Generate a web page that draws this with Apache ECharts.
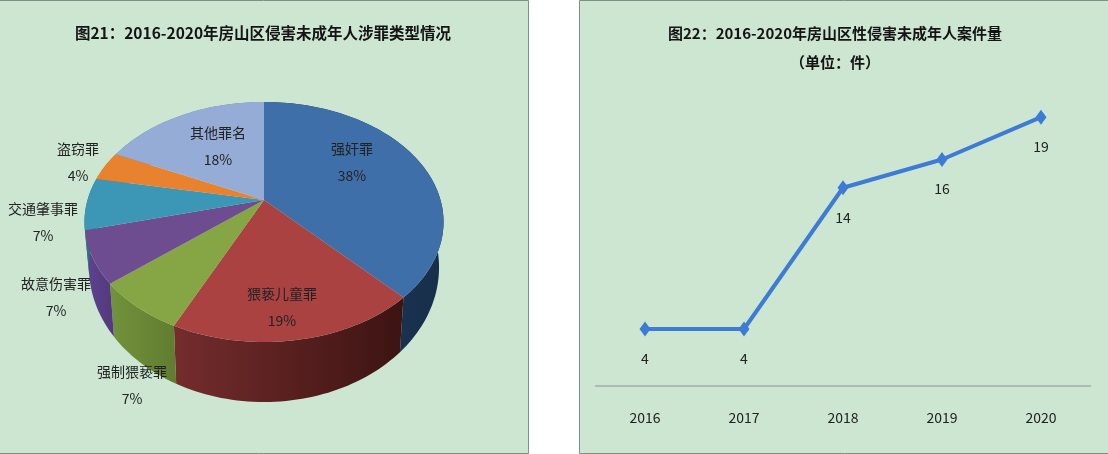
<!DOCTYPE html>
<html>
<head>
<meta charset="utf-8">
<style>html,body{margin:0;padding:0;background:#fff}#c{width:1108px;height:454px}</style>
<script src="https://cdn.jsdelivr.net/npm/echarts@6/dist/echarts.min.js"></script>
</head>
<body>
<div id="c"></div>
<script>
// ---- data ----
const crimeNames = ['强奸罪', '猥亵儿童罪', '强制猥亵罪', '故意伤害罪', '交通肇事罪', '盗窃罪', '其他罪名'];
const crimeShares = [38, 19, 7, 7, 7, 4, 18];
const years = ['2016', '2017', '2018', '2019', '2020'];
const caseCounts = [4, 4, 14, 16, 19];
const titleLeft = '图21：2016-2020年房山区侵害未成年人涉罪类型情况';
const titleRight = '图22：2016-2020年房山区性侵害未成年人案件量\n（单位：件）';

// ---- styling / layout ----
const FONT = '"Noto Sans CJK SC","Noto Sans",sans-serif';
const topColors = ['#3f6fa8', '#a94240', '#86a544', '#6d4c8f', '#3c97b6', '#e8822f', '#95add6'];
const wallLeft = ['#1c3a5a', '#752c2d', '#72923c', '#5f4490', '#2d7288', '#ae6020', '#6f81a0'];
const wallRight = ['#182f4b', '#3c1412', '#617c30', '#52397c', '#2d7288', '#ae6020', '#6f81a0'];
const labelCentres = [[352, 162], [282, 307], [132, 385], [56, 297], [43, 222], [78, 162], [218, 146]];
const P = {ax: 264, ay: 200, A: 176.5, B: 116, k: 0.183, sx: 0.975, sy: 1.122, dy: 42.7};

function rim(deg, bottom) {
  const t = deg * Math.PI / 180, u = Math.sin(t), v = Math.cos(t), w = 1 + P.k * v;
  const X = P.A * u / w, Y = -P.B * v / w;
  return bottom
    ? [P.ax + P.sx * X, P.ay + P.dy + P.sy * Y]
    : [P.ax + X, P.ay + Y];
}
function sweep(start, end, bottom) {
  const pts = [], n = Math.max(2, Math.ceil((end - start) / 1.5));
  for (let i = 0; i <= n; i++) pts.push(rim(start + (end - start) * i / n, bottom));
  return pts;
}
const total = crimeShares.reduce((a, b) => a + b, 0);
function sliceRange(i) {
  let before = 0;
  for (let j = 0; j < i; j++) before += crimeShares[j];
  return [before / total * 360, (before + crimeShares[i]) / total * 360];
}
const pieData = crimeShares.map((v, i) => ({name: crimeNames[i], value: v}));

function renderWall(params) {
  const i = params.dataIndex, r = sliceRange(i);
  const pts = sweep(r[0], r[1], false).concat(sweep(r[0], r[1], true).reverse());
  return {
    type: 'polygon', shape: {points: pts},
    style: {fill: new echarts.graphic.LinearGradient(0, 0, 1, 0, [
      {offset: 0, color: wallLeft[i]}, {offset: 1, color: wallRight[i]}
    ])}
  };
}
function renderTop(params) {
  const i = params.dataIndex, r = sliceRange(i);
  const pts = [[P.ax, P.ay]].concat(sweep(r[0], r[1], false));
  return {type: 'polygon', shape: {points: pts}, style: {fill: topColors[i]}};
}
function renderLabel(params) {
  const i = params.dataIndex, c = labelCentres[i];
  return {
    type: 'text',
    style: {
      x: c[0], y: c[1], text: crimeNames[i] + '\n' + crimeShares[i] + '%',
      fill: '#222222', font: '14px ' + FONT, align: 'center', verticalAlign: 'middle', lineHeight: 27
    }
  };
}

const chart = echarts.init(document.getElementById('c'), null, {renderer: 'canvas'});
const panel = (x, w) => ({
  type: 'rect', z: -10, silent: true, shape: {x: x, y: 0.5, width: w, height: 453},
  style: {fill: '#cce6d2', stroke: '#7f8f88', lineWidth: 1}
});
chart.setOption({
  animation: false,
  backgroundColor: '#ffffff',
  graphic: [panel(-1, 529.5), panel(579.5, 530)],
  title: [
    {text: titleLeft, left: 258, top: 20, textAlign: 'center',
     textStyle: {fontFamily: FONT, fontSize: 15.5, fontWeight: 'bold', color: '#141414'}},
    {text: titleRight, left: 830, top: 14, textAlign: 'center',
     textStyle: {fontFamily: FONT, fontSize: 15, fontWeight: 'bold', color: '#141414', lineHeight: 29}}
  ],
  grid: {left: 595.5, width: 495, top: 103, bottom: 68.5, containLabel: false},
  xAxis: {
    type: 'category', data: years, boundaryGap: true,
    axisLine: {lineStyle: {color: '#a0aeab', width: 1.5}},
    axisTick: {show: false},
    axisLabel: {color: '#222222', fontFamily: FONT, fontSize: 14, margin: 25}
  },
  yAxis: {type: 'value', min: 0, max: 20, interval: 5, show: false, splitLine: {show: false}},
  series: [
    {type: 'custom', coordinateSystem: 'none', renderItem: renderWall, data: pieData, z: 2, silent: true},
    {type: 'custom', coordinateSystem: 'none', renderItem: renderTop, data: pieData, z: 3, silent: true},
    {type: 'custom', coordinateSystem: 'none', renderItem: renderLabel, data: pieData, z: 4, silent: true},
    {
      type: 'line', data: caseCounts, z: 5,
      symbol: 'diamond', symbolSize: [11, 15], showAllSymbol: true,
      lineStyle: {color: '#3d7bd4', width: 4},
      itemStyle: {color: '#3d7bd4'},
      label: {show: true, position: 'bottom', distance: 15, color: '#222222', fontFamily: FONT, fontSize: 14}
    }
  ]
});
</script>
</body>
</html>
